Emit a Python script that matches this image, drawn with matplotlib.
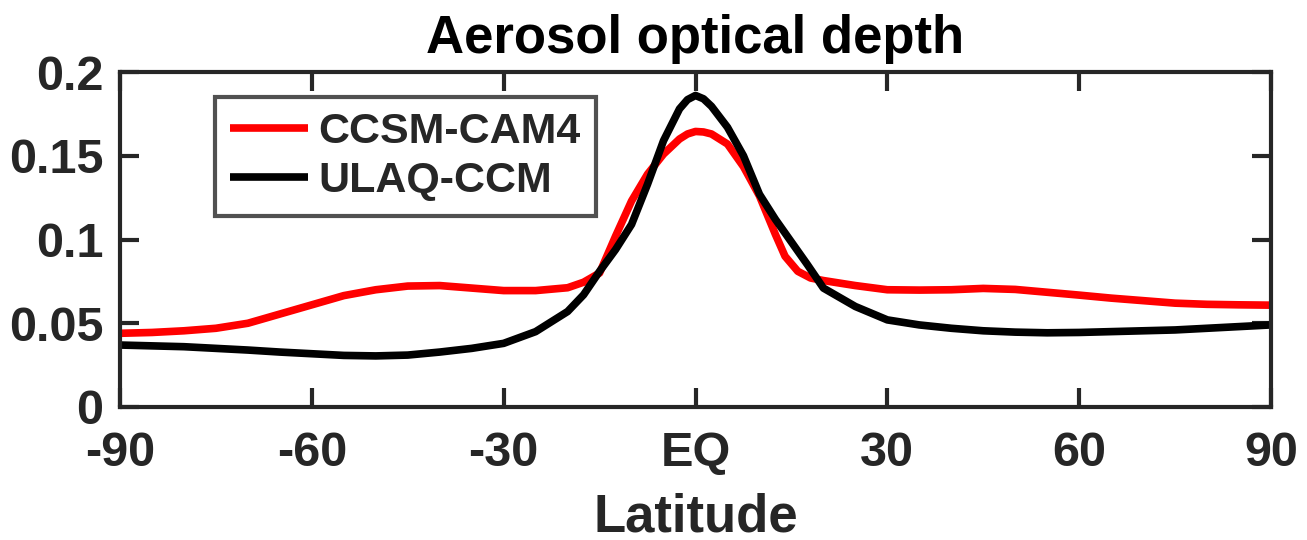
import matplotlib
matplotlib.use("Agg")
import matplotlib.pyplot as plt

plt.rcParams['font.family'] = ['Liberation Sans', 'DejaVu Sans']
plt.rcParams['font.weight'] = 'bold'

lat_red = [-90, -85, -80, -75, -70, -65, -60, -55, -50, -45, -40, -35, -30, -25, -20,
           -17.5, -15, -12.5, -10, -7.5, -5, -2.5, -1.25, 0, 1.25, 2.5, 5, 7.5, 10, 12.5,
           14, 16, 18, 20,
           25, 30, 35, 40, 45, 50, 55, 60, 65, 70, 75, 80, 85, 90]
ccsm_cam4 = [0.044, 0.0445, 0.0455, 0.047, 0.050, 0.0555, 0.061, 0.0665, 0.070, 0.0722, 0.0725,
             0.071, 0.0695, 0.0695, 0.0712,
             0.0745, 0.080, 0.102, 0.123, 0.139, 0.151, 0.160, 0.163, 0.1645, 0.1642, 0.163,
             0.157, 0.1435, 0.126, 0.103,
             0.090, 0.081, 0.077, 0.0755,
             0.0725, 0.070, 0.0698, 0.070, 0.0708, 0.0702, 0.0685, 0.0668, 0.065, 0.0635, 0.062,
             0.0613, 0.061, 0.0608]

lat_blk = [-90, -85, -80, -75, -70, -65, -60, -55, -50, -45, -40, -35, -30, -25, -20,
           -17.5, -15, -12.5, -10, -7.5, -5, -2.5, -1.25, 0, 1.25, 2.5, 5, 7.5, 10, 12.5,
           15, 17.5, 20,
           25, 30, 35, 40, 45, 50, 55, 60, 65, 70, 75, 80, 85, 90]
ulaq_ccm = [0.037, 0.0365, 0.036, 0.035, 0.034, 0.0328, 0.0318, 0.0308, 0.0305, 0.031, 0.0328,
            0.035, 0.038, 0.045, 0.057,
            0.067, 0.081, 0.094, 0.109, 0.133, 0.159, 0.178, 0.1835, 0.186, 0.184, 0.1795,
            0.167, 0.150, 0.127, 0.112,
            0.0985, 0.085, 0.071,
            0.060, 0.052, 0.049, 0.047, 0.0455, 0.0447, 0.0443, 0.0445, 0.045, 0.0455, 0.046,
            0.047, 0.048, 0.049]

xticks = [-90, -60, -30, 0, 30, 60, 90]
xticklabels = ['-90', '-60', '-30', 'EQ', '30', '60', '90']
yticks = [0, 0.05, 0.1, 0.15, 0.2]
yticklabels = ['0', '0.05', '0.1', '0.15', '0.2']

fig = plt.figure(figsize=(13.07, 5.40), dpi=100)
ax = fig.add_axes([120/1307, 1-407/540, (1271-120)/1307, (407-72)/540])

axc = '#262626'
ax.plot(lat_red, ccsm_cam4, color='#ff0000', lw=5.5, label='CCSM-CAM4',
        solid_capstyle='butt', solid_joinstyle='round')
ax.plot(lat_blk, ulaq_ccm, color='black', lw=5.5, label='ULAQ-CCM',
        solid_capstyle='butt', solid_joinstyle='round')

ax.set_xlim(-90, 90)
ax.set_ylim(0, 0.2)
ax.set_xticks(xticks)
ax.set_xticklabels(xticklabels)
ax.set_yticks(yticks)
ax.set_yticklabels(yticklabels)
for s in ax.spines.values():
    s.set_linewidth(3)
    s.set_color(axc)
ax.tick_params(direction='in', length=14, width=3, colors=axc, labelsize=35,
               top=True, right=True)
ax.tick_params(axis='x', pad=17)
ax.tick_params(axis='y', pad=12)
for lab in ax.get_xticklabels() + ax.get_yticklabels():
    lab.set_fontweight('bold')
    lab.set_color(axc)

ax.set_title('Aerosol optical depth', fontsize=38, fontweight='bold', pad=14)
ax.set_xlabel('Latitude', fontsize=38, fontweight='bold', labelpad=12, color=axc)

leg = ax.legend(loc='upper left', bbox_to_anchor=(95/1151, 1-25/335), fontsize=31,
                frameon=True, fancybox=False, handlelength=1.8, handletextpad=0.25,
                borderpad=0.35, labelspacing=0.2, borderaxespad=0)
leg.get_frame().set_edgecolor(axc)
leg.get_frame().set_linewidth(3)
for t in leg.get_texts():
    t.set_fontweight('bold')
    t.set_color(axc)
for h in leg.get_lines():
    h.set_linewidth(5.5)

fig.savefig('out.png', dpi=100)
